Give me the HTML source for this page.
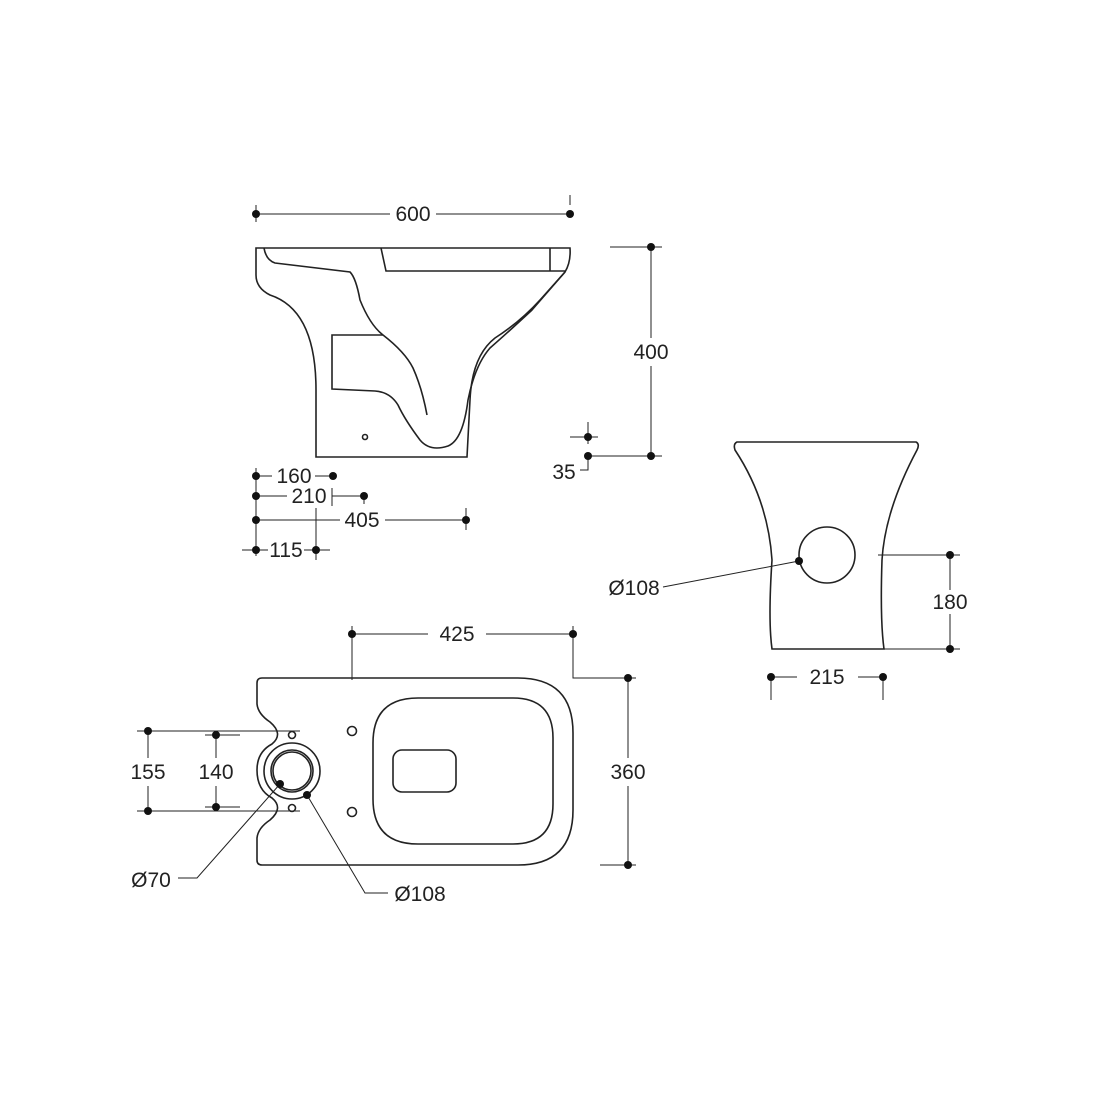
<!DOCTYPE html>
<html><head><style>body{margin:0;background:#fff}svg{display:block}text{font-family:"Liberation Sans",sans-serif;font-size:21px;fill:#222}</style></head><body>
<svg width="1100" height="1100" viewBox="0 0 1100 1100" xmlns="http://www.w3.org/2000/svg">
<g fill="none" stroke="#222" stroke-width="1.6">
<path d="M256,248 H570 Q571,262 565,272 L540,300 Q520,322 495,338 Q472,356 470,400 L467,457 H316 V390 Q316,310 270,295 Q256,288 256,275 Z"/>
<path d="M565,272 L532,310 Q505,335 490,348 Q475,365 468,400 Q463,440 448,446 Q430,452 420,440 Q405,420 398,405 Q390,392 375,391 L332,389 V335 H383"/>
<path d="M264,248 Q266,260 275,263 L350,272 Q356,278 360,300 Q370,325 383,335 Q405,352 413,368 Q422,388 427,415"/>
<path d="M381,248 L386,271 H565 M550,248 V271"/>
<circle cx="365" cy="437" r="2.5"/>
<path d="M737,442 H916 Q920,444 917,450 Q885,510 882,560 Q880,620 884,649 H772 Q768,620 772,560 Q768,500 735,450 Q733,444 737,442 Z"/>
<circle cx="827" cy="555" r="28"/>
<path d="M262,678 H518 Q573,678 573,733 V810 Q573,865 518,865 H262 Q257,865 257,860 V838 Q258,828 270,820 Q284,808 272,798 Q257,790 257,770 Q257,752 272,744 Q284,734 270,722 Q258,714 257,704 V683 Q257,678 262,678 Z"/>
<path d="M418,698 H513 Q553,698 553,738 V804 Q553,844 513,844 H418 Q373,844 373,799 V743 Q373,698 418,698 Z"/>
<rect x="393" y="750" width="63" height="42" rx="9"/>
<circle cx="352" cy="731" r="4.5"/><circle cx="352" cy="812" r="4.5"/>
<circle cx="292" cy="735" r="3.5"/><circle cx="292" cy="808" r="3.5"/>
<circle cx="292" cy="771" r="28"/><circle cx="292" cy="771" r="21"/><circle cx="292" cy="771" r="19"/>
</g>
<g fill="none" stroke="#222" stroke-width="1">
<path d="M256,205 V222 M256,214 H390 M436,214 H570 M570,195 V205"/>
<path d="M610,247 H662 M651,247 V338 M651,366 V456 M588,456 H662 M570,437 H598 M588,422 V444 M588,456 V470 H580"/>
<path d="M256,468 V556 M256,476 H272 M315,476 H333 M256,496 H287 M332,488 V506 M332,496 H364 M364,496 V504 M256,520 H340 M385,520 H466 M466,508 V530 M242,550 H268 M304,550 H330 M316,508 V560"/>
<path d="M799,561 L663,587 M878,555 H960 M884,649 H960 M950,555 V590 M950,614 V649 M771,677 H797 M858,677 H883 M771,677 V700 M883,677 V700"/>
<path d="M352,626 V680 M352,634 H428 M486,634 H573 M573,626 V678 H636 M628,678 V758 M628,786 V865 M600,865 H636"/>
<path d="M137,731 H300 M137,811 H300 M148,731 V758 M148,786 V811 M205,735 H240 M205,807 H240 M216,735 V758 M216,786 V807"/>
<path d="M280,784 L197,878 H178 M307,795 L365,893 H388"/>
</g>
<g fill="#111">
<circle cx="256" cy="214" r="4"/><circle cx="570" cy="214" r="4"/>
<circle cx="651" cy="247" r="4"/><circle cx="651" cy="456" r="4"/><circle cx="588" cy="437" r="4"/><circle cx="588" cy="456" r="4"/>
<circle cx="256" cy="476" r="4"/><circle cx="333" cy="476" r="4"/><circle cx="256" cy="496" r="4"/><circle cx="364" cy="496" r="4"/>
<circle cx="256" cy="520" r="4"/><circle cx="466" cy="520" r="4"/><circle cx="256" cy="550" r="4"/><circle cx="316" cy="550" r="4"/>
<circle cx="799" cy="561" r="4"/><circle cx="950" cy="555" r="4"/><circle cx="950" cy="649" r="4"/><circle cx="771" cy="677" r="4"/><circle cx="883" cy="677" r="4"/>
<circle cx="352" cy="634" r="4"/><circle cx="573" cy="634" r="4"/><circle cx="628" cy="678" r="4"/><circle cx="628" cy="865" r="4"/>
<circle cx="148" cy="731" r="4"/><circle cx="148" cy="811" r="4"/><circle cx="216" cy="735" r="4"/><circle cx="216" cy="807" r="4"/>
<circle cx="280" cy="784" r="4"/><circle cx="307" cy="795" r="4"/>
</g>
<g text-anchor="middle">
<text x="413" y="221">600</text>
<text x="651" y="359">400</text>
<text x="564" y="479">35</text>
<text x="294" y="483">160</text>
<text x="309" y="503">210</text>
<text x="362" y="527">405</text>
<text x="286" y="557">115</text>
<text x="634" y="595">Ø108</text>
<text x="950" y="609">180</text>
<text x="827" y="684">215</text>
<text x="457" y="641">425</text>
<text x="628" y="779">360</text>
<text x="148" y="779">155</text>
<text x="216" y="779">140</text>
<text x="151" y="887">Ø70</text>
<text x="420" y="901">Ø108</text>
</g>
</svg>
</body></html>
